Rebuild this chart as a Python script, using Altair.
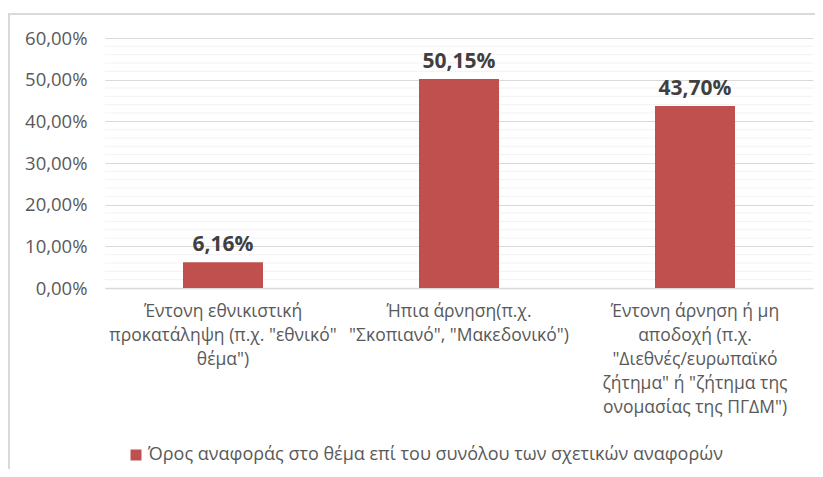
import altair as alt
import pandas as pd

categories = [
    "Έντονη εθνικιστική\nπροκατάληψη (π.χ. \"εθνικό\"\nθέμα\")",
    "Ήπια άρνηση(π.χ.\n\"Σκοπιανό\", \"Μακεδονικό\")",
    "Έντονη άρνηση ή μη\nαποδοχή (π.χ.\n\"Διεθνές/ευρωπαϊκό\nζήτημα\" ή \"ζήτημα της\nονομασίας της ΠΓΔΜ\")",
]
values = [0.0616, 0.5015, 0.4370]
series_name = "Όρος αναφοράς στο θέμα επί του  συνόλου των σχετικών αναφορών"
minor_ticks = [0.02, 0.04, 0.06, 0.08, 0.12, 0.14, 0.16, 0.18, 0.22, 0.24, 0.26, 0.28,
               0.32, 0.34, 0.36, 0.38, 0.42, 0.44, 0.46, 0.48, 0.52, 0.54, 0.56, 0.58]
major_ticks = [0.0, 0.1, 0.2, 0.3, 0.4, 0.5, 0.6]

FONT = "Open Sans"
BAR_COLOR = "#c0504d"

df = pd.DataFrame({"cat": categories, "value": values, "series": [series_name] * 3})
minor_df = pd.DataFrame({"v": minor_ticks})

W, H = 708, 250

x_enc = alt.X(
    "cat:N",
    sort=categories,
    title=None,
    scale=alt.Scale(paddingInner=0, paddingOuter=0),
    axis=alt.Axis(
        labelExpr="split(datum.label, '\\n')",
        labelAngle=0,
        labelFont=FONT,
        labelFontSize=17.5,
        labelColor="#595959",
        labelLineHeight=24,
        labelLimit=0,
        labelOverlap=False,
        labelPadding=14,
        ticks=False,
        domainColor="#d9d9d9",
        domainWidth=1.5,
        labelBaseline="top",
    ),
)

y_scale = alt.Scale(domain=[0, 0.6], nice=False)

minor = alt.Chart(minor_df).mark_rule(color="#f2f2f2", strokeWidth=1).encode(
    y=alt.Y("v:Q", scale=y_scale)
)

bars = alt.Chart(df).mark_bar(size=80).encode(
    x=x_enc,
    y=alt.Y(
        "value:Q",
        scale=y_scale,
        title=None,
        axis=alt.Axis(
            values=major_ticks,
            labelExpr="replace(format(datum.value, '.2%'), '.', ',')",
            labelFont=FONT,
            labelFontSize=18.5,
            labelColor="#595959",
            labelPadding=18,
            ticks=False,
            domain=False,
            gridColor="#d9d9d9",
            gridWidth=1,
        ),
    ),
    color=alt.Color(
        "series:N",
        scale=alt.Scale(domain=[series_name], range=[BAR_COLOR]),
        legend=alt.Legend(
            title=None,
            orient="none",
            legendX=22,
            legendY=408,
            symbolType="square",
            symbolSize=121,
            symbolStrokeWidth=0,
            labelFont=FONT,
            labelFontSize=18,
            labelColor="#595959",
            labelLimit=0,
            labelOffset=3,
        ),
    ),
)

labels = alt.Chart(df).transform_calculate(
    lbl="replace(format(datum.value, '.2%'), '.', ',')"
).mark_text(
    baseline="middle", dy=-17, font=FONT, fontSize=21, fontWeight="bold", color="#404040"
).encode(
    x=alt.X("cat:N", sort=categories),
    y=alt.Y("value:Q", scale=y_scale),
    text="lbl:N",
)

border_left = alt.Chart(df).mark_rule(color="#d9d9d9", strokeWidth=2).encode(
    x=alt.value(-96), y=alt.value(-24), y2=alt.value(460)
)
border_top = alt.Chart(df).mark_rule(color="#d9d9d9", strokeWidth=2).encode(
    x=alt.value(-97), x2=alt.value(W + 2), y=alt.value(-24)
)

chart = alt.layer(minor, bars, labels, border_left, border_top).properties(
    width=W,
    height=H,
    autosize=alt.AutoSizeParams(type="none"),
    padding={"left": 97, "top": 30, "right": 2, "bottom": 181},
).configure_view(stroke=None)

chart.save("out.html", embed_options={"renderer": "svg", "actions": False})
